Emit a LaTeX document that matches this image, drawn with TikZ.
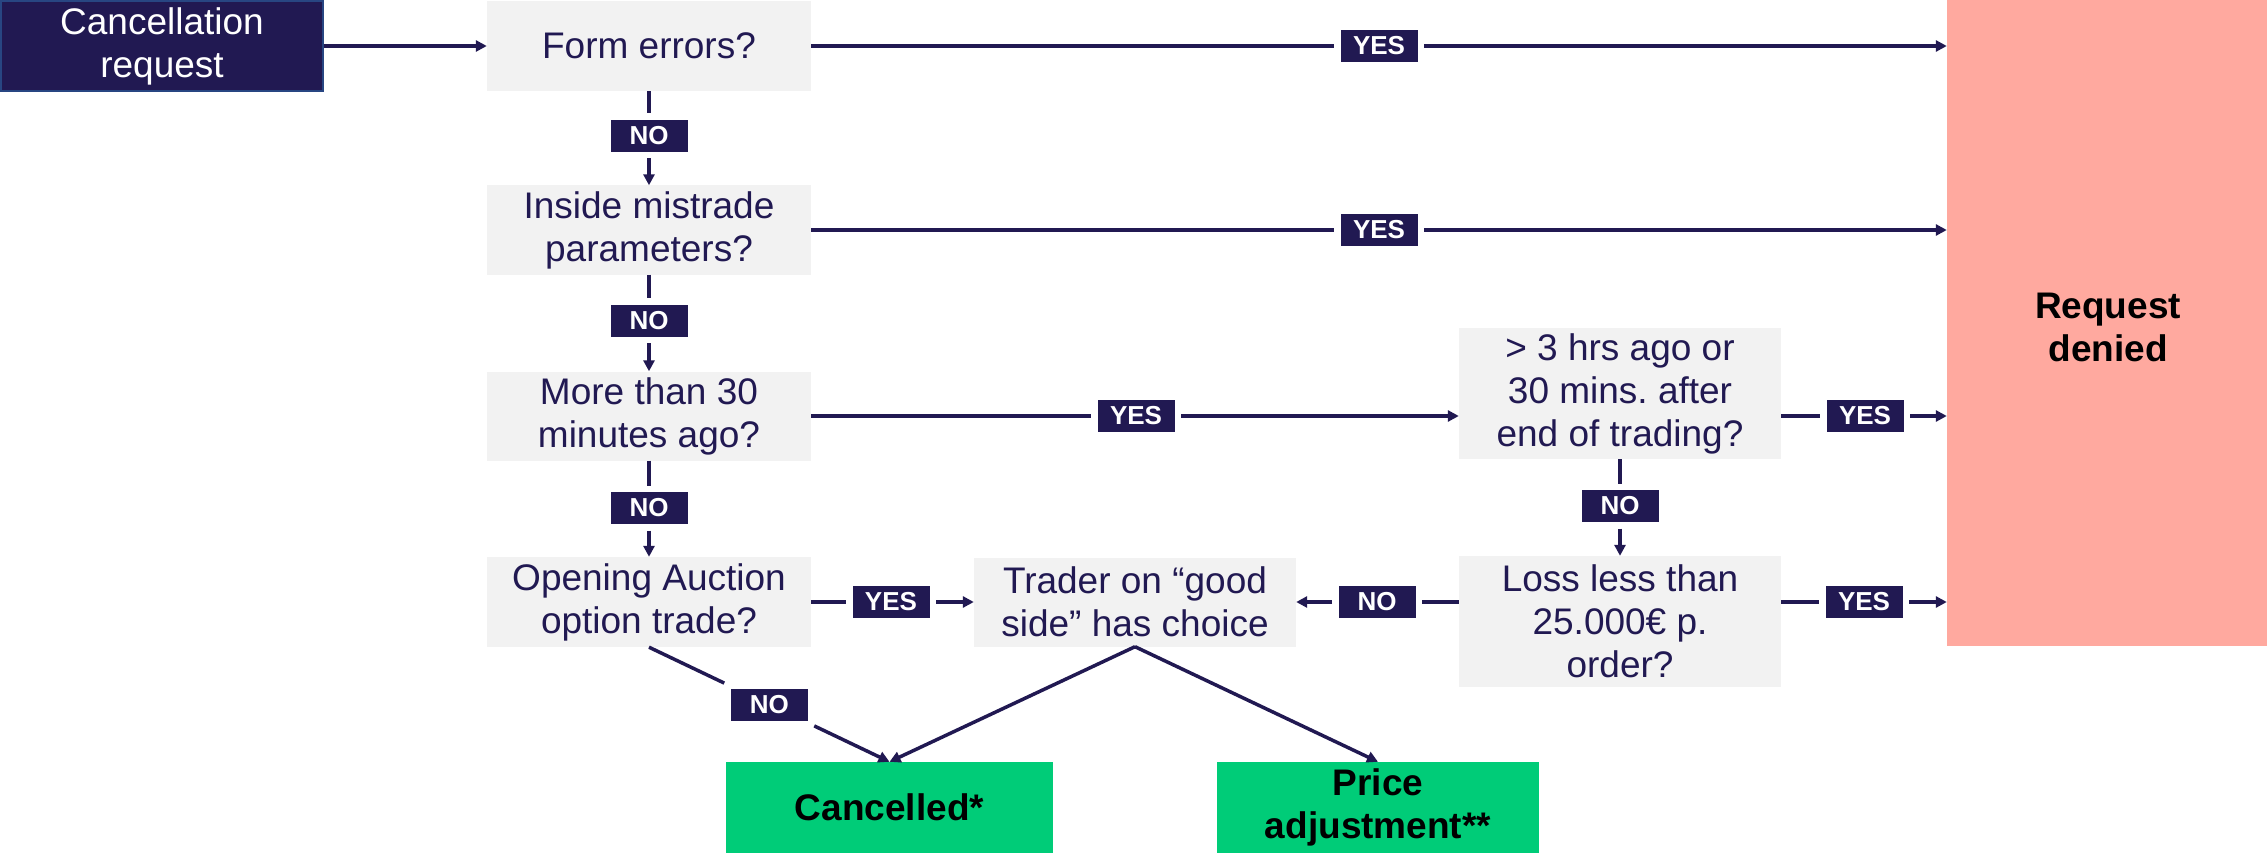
\documentclass[tikz,border=0pt]{standalone}
\usepackage{fontspec}
\setmainfont{Liberation Sans}
\usetikzlibrary{arrows.meta,calc}
\definecolor{navy}{RGB}{33,25,82}
\definecolor{lgray}{RGB}{242,242,242}
\definecolor{salmon}{RGB}{255,169,159}
\definecolor{mgreen}{RGB}{0,204,120}
\definecolor{bordblue}{RGB}{40,70,130}
\frenchspacing
\begin{document}
\begin{tikzpicture}[x=1pt,y=-1pt,
  qbox/.style={fill=lgray, text=navy, align=center, inner sep=0pt, font=\fontsize{37}{43}\selectfont},
  lab/.style={fill=navy, text=white, font=\fontsize{26}{30}\selectfont\bfseries, minimum width=77pt, minimum height=32pt, inner sep=0pt, outer sep=6.5pt},
  endbox/.style={fill=mgreen, text=black, align=center, inner sep=0pt, font=\fontsize{37}{43}\selectfont\bfseries},
  conn/.style={draw=navy, line width=3.5pt},
  arr/.style={conn, -{Triangle[length=11pt,width=11pt]}}
]
\useasboundingbox (0,0) rectangle (2267,853);

% boxes
\node[fill=navy, draw=bordblue, line width=1.5pt, text=white, align=center, inner sep=0pt,
      font=\fontsize{37}{43}\selectfont, minimum width=322pt, minimum height=90pt] (req) at (162,46) {Cancellation\\request};
\node[qbox, minimum width=324pt, minimum height=90pt] (form) at (649,46) {Form errors?};
\node[qbox, minimum width=324pt, minimum height=89pt] (mis) at (649,230) {Inside mistrade\\parameters?};
\node[qbox, minimum width=324pt, minimum height=89pt] (more) at (649,416) {More than 30\\minutes ago?};
\node[qbox, minimum width=324pt, minimum height=90pt] (open) at (649,602) {Opening Auction\\option trade?};
\node[qbox, minimum width=322pt, minimum height=89pt] (trader) at (1135,602) {Trader on “good\\side” has choice};
\node[qbox, minimum width=322pt, minimum height=131pt] (h3) at (1620,393.5) {> 3 hrs ago or\\30 mins. after\\end of trading?};
\node[qbox, minimum width=322pt, minimum height=131pt] (loss) at (1620,621.5) {Loss less than\\25.000€ p.\\order?};
\node[fill=salmon, text=black, align=center, inner sep=0pt, font=\fontsize{37}{43}\selectfont\bfseries,
      minimum width=320pt, minimum height=646pt] (denied) at (2107,323) {};
\node[text=black, align=center, inner sep=0pt, font=\fontsize{37}{43}\selectfont\bfseries] (deniedtxt) at (2108,327) {Request\\denied};
\node[endbox, minimum width=327pt, minimum height=91pt] (canc) at (889.5,807.5) {Cancelled*};
\node[endbox, minimum width=322pt, minimum height=91pt] (price) at (1378,807.5) {Price\\adjustment**};

% labels
\node[lab] (yes1) at (1379,46) {YES};
\node[lab] (no1) at (649,136) {NO};
\node[lab] (yes2) at (1379,230) {YES};
\node[lab] (no2) at (649,320.5) {NO};
\node[lab] (yes3) at (1136,416) {YES};
\node[lab] (yes4) at (1865,416) {YES};
\node[lab] (no3) at (1620,506) {NO};
\node[lab] (no4) at (649,508) {NO};
\node[lab] (yes5) at (891,602) {YES};
\node[lab] (no5) at (1377,602) {NO};
\node[lab] (yes6) at (1864,602) {YES};
\node[lab] (no6) at ($(open.south)!0.5!(canc.north)$) {NO};

% connectors
\draw[arr] (req) -- (form);
\draw[conn] (form) -- (yes1);
\draw[arr] (yes1) -- (yes1 -| denied.west);
\draw[conn] (form) -- (no1);
\draw[arr] (no1) -- (mis);
\draw[conn] (mis) -- (yes2);
\draw[arr] (yes2) -- (yes2 -| denied.west);
\draw[conn] (mis) -- (no2);
\draw[arr] (no2) -- (more);
\draw[conn] (more) -- (yes3);
\draw[arr] (yes3) -- (yes3 -| h3.west);
\draw[conn] (yes4 -| h3.east) -- (yes4);
\draw[arr] (yes4) -- (yes4 -| denied.west);
\draw[conn] (h3) -- (no3);
\draw[arr] (no3) -- (loss);
\draw[conn] (more) -- (no4);
\draw[arr] (no4) -- (open);
\draw[conn] (open) -- (yes5);
\draw[arr] (yes5) -- (trader);
\draw[conn] (no5 -| loss.west) -- (no5);
\draw[arr] (no5) -- (trader);
\draw[conn] (yes6 -| loss.east) -- (yes6);
\draw[arr] (yes6) -- (yes6 -| denied.west);
\draw[conn] (open.south) -- (no6);
\draw[arr] (no6) -- (canc.north);
\draw[arr] (trader.south) -- (canc.north);
\draw[arr] (trader.south) -- (price.north);
\end{tikzpicture}
\end{document}
